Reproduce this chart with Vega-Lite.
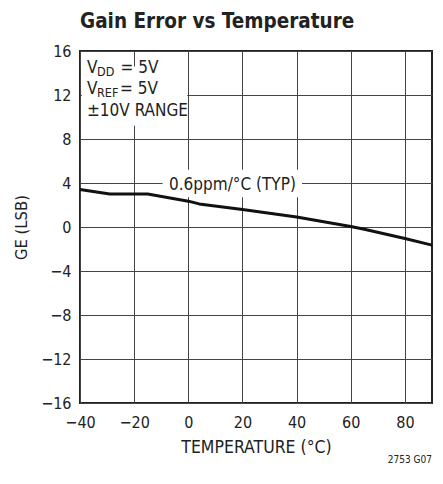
{
  "$schema": "https://vega.github.io/schema/vega-lite/v6.json",
  "width": 352,
  "height": 352,
  "autosize": "none",
  "padding": {"left": 80, "top": 51, "right": 11, "bottom": 81},
  "config": {
    "font": "DejaVu Sans Condensed, sans-serif",
    "view": {"stroke": "#222", "strokeWidth": 2},
    "axis": {
      "grid": true,
      "gridColor": "#444",
      "gridWidth": 1,
      "gridOpacity": 1,
      "ticks": false,
      "domain": false,
      "labelFlush": false,
      "labelFontSize": 16,
      "labelColor": "#222",
      "titleFontSize": 17.5,
      "titleFontWeight": "normal",
      "titleColor": "#222"
    }
  },
  "title": {
    "text": "Gain Error vs Temperature",
    "anchor": "start",
    "frame": "group",
    "fontSize": 20.5,
    "fontWeight": "bold",
    "color": "#222",
    "offset": 11
  },
  "encoding": {
    "x": {
      "field": "temp",
      "type": "quantitative",
      "scale": {"domain": [-40, 90], "nice": false, "zero": false},
      "axis": {
        "title": "TEMPERATURE (°C)",
        "values": [-40, -20, 0, 20, 40, 60, 80],
        "labelPadding": 11,
        "titlePadding": 8
      }
    },
    "y": {
      "field": "ge",
      "type": "quantitative",
      "scale": {"domain": [-16, 16], "nice": false, "zero": false},
      "axis": {
        "title": "GE (LSB)",
        "values": [-16, -12, -8, -4, 0, 4, 8, 12, 16],
        "labelPadding": 9,
        "titlePadding": 11,
        "titleFontSize": 16.5
      }
    }
  },
  "layer": [
    {
      "data": {"values": [
        {"temp": -39.3, "temp2": -0.4, "ge": 9.2, "ge2": 14.6},
        {"temp": -9.5, "temp2": 42, "ge": 2.7, "ge2": 5.2}
      ]},
      "mark": {"type": "rect", "fill": "white", "stroke": null},
      "encoding": {
        "x2": {"field": "temp2"},
        "y2": {"field": "ge2"}
      }
    },
    {
      "data": {"values": [
        {"temp": -40, "ge": 3.4},
        {"temp": -29, "ge": 3.0},
        {"temp": -15, "ge": 3.0},
        {"temp": 0, "ge": 2.35},
        {"temp": 4, "ge": 2.1},
        {"temp": 20, "ge": 1.6},
        {"temp": 40, "ge": 0.9},
        {"temp": 60, "ge": 0.05},
        {"temp": 65, "ge": -0.2},
        {"temp": 80, "ge": -1.05},
        {"temp": 90, "ge": -1.65}
      ]},
      "mark": {"type": "line", "color": "#111", "strokeWidth": 3, "strokeJoin": "round"}
    },
    {
      "data": {"values": [
        {"temp": -37.4, "ge": 14.0, "label": "V"},
        {"temp": -25.0, "ge": 14.0, "label": "= 5V"},
        {"temp": -37.4, "ge": 12.1, "label": "V"},
        {"temp": -25.2, "ge": 12.1, "label": "= 5V"},
        {"temp": -37.4, "ge": 10.1, "label": "±10V RANGE"}
      ]},
      "mark": {"type": "text", "align": "left", "baseline": "alphabetic", "fontSize": 17, "color": "#222"},
      "encoding": {"text": {"field": "label"}}
    },
    {
      "data": {"values": [
        {"temp": -33.7, "ge": 13.7, "label": "DD"},
        {"temp": -33.7, "ge": 11.8, "label": "REF"}
      ]},
      "mark": {"type": "text", "align": "left", "baseline": "alphabetic", "fontSize": 12.5, "color": "#222"},
      "encoding": {"text": {"field": "label"}}
    },
    {
      "data": {"values": [
        {"temp": 16.3, "ge": 3.36, "label": "0.6ppm/°C (TYP)"}
      ]},
      "mark": {"type": "text", "align": "center", "baseline": "alphabetic", "fontSize": 17, "color": "#222"},
      "encoding": {"text": {"field": "label"}}
    },
    {
      "data": {"values": [
        {"temp": 90, "ge": -16, "label": "2753 G07"}
      ]},
      "mark": {"type": "text", "align": "right", "baseline": "alphabetic", "fontSize": 10, "dy": 60, "color": "#222"},
      "encoding": {"text": {"field": "label"}}
    }
  ]
}
